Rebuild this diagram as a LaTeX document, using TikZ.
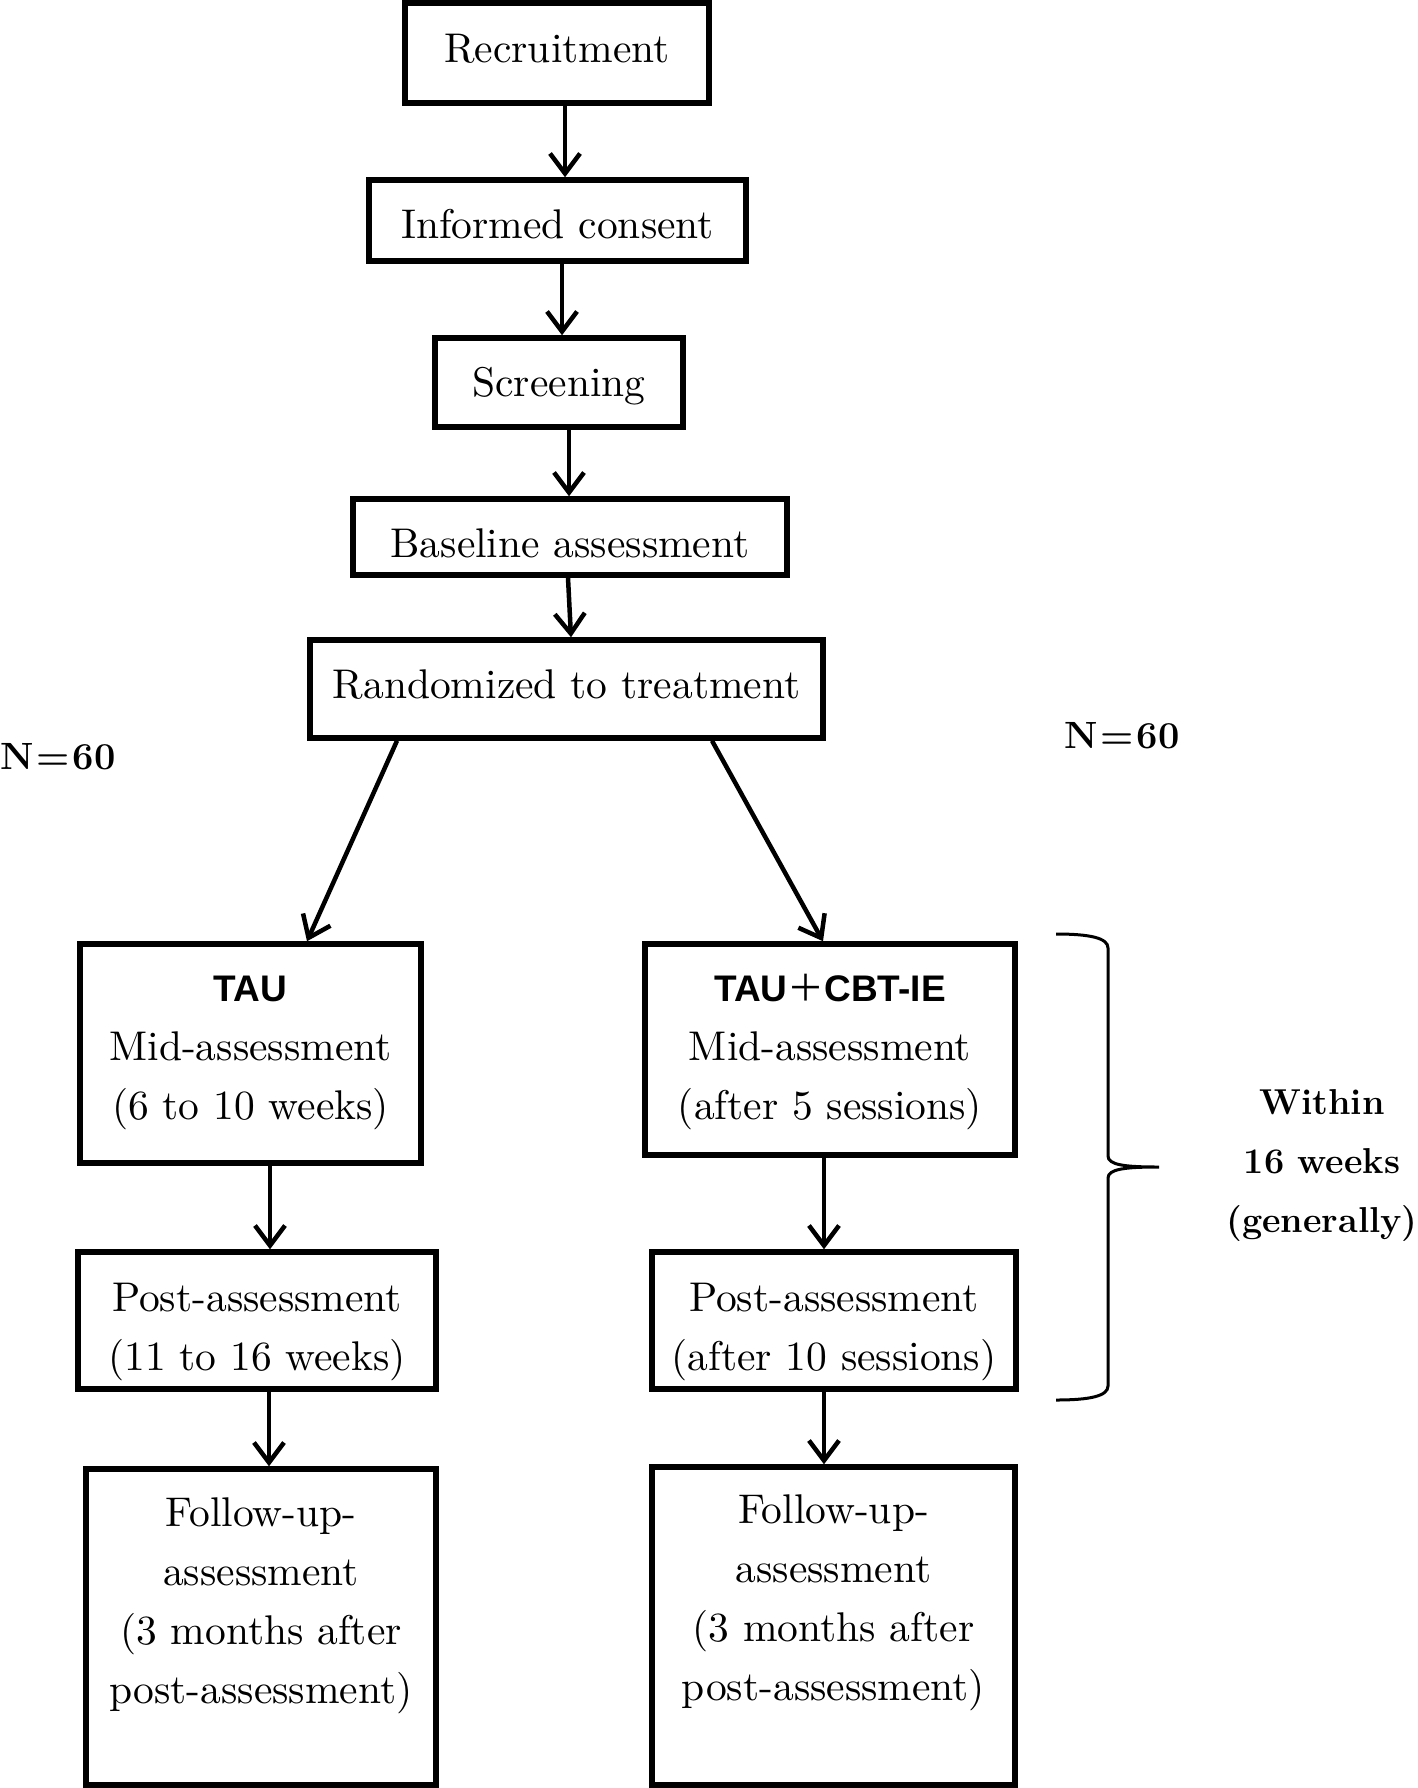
\documentclass[tikz,border=0pt]{standalone}
\usepackage{fontspec}
\setmainfont{lmroman10-regular.otf}[BoldFont=lmroman12-bold.otf, ItalicFont=lmroman10-italic.otf]
\newfontfamily\hdfont{Liberation Sans}
\newfontfamily\cjkfont{Noto Sans CJK JP}
\usetikzlibrary{arrows.meta}
\newcommand\mainsz{\fontsize{41.5}{59}\selectfont}
\newcommand\hdsz{\hdfont\bfseries\fontsize{37}{59}\selectfont}
\newcommand\txtlines[2]{\raisebox{#1}[\height][\depth]{\begin{tabular}{@{}c@{}}#2\end{tabular}}}
\begin{document}
\begin{tikzpicture}[x=1pt,y=-1pt,
  box/.style={draw, line width=5.5pt, inner sep=0pt, font=\mainsz},
  arr/.style={line width=4.5pt, -{Straight Barb[length=20pt,width=30pt]}},
  bracepath/.style={line width=3pt},
  note/.style={inner sep=0pt, align=center, font=\bfseries\fontsize{36}{59}\selectfont}]
\useasboundingbox (0,0) rectangle (1418,1788);

\node[box, minimum width=304pt, minimum height=100pt] (rec) at (557,53) {\txtlines{2.3pt}{Recruitment}};
\node[box, minimum width=377pt, minimum height=81pt] (inf) at (557.5,220.5) {\txtlines{-5.8pt}{Informed consent}};
\node[box, minimum width=248pt, minimum height=89pt] (scr) at (559,382.5) {\txtlines{-2.2pt}{Screening}};
\node[box, minimum width=434pt, minimum height=76pt] (base) at (570,537) {\txtlines{-8.4pt}{Baseline assessment}};
\node[box, minimum width=513pt, minimum height=98pt] (rand) at (566.5,689) {\txtlines{2.3pt}{Randomized to treatment}};

\node[box, minimum width=341pt, minimum height=219pt] (tau) at (250.5,1053.5)
  {\txtlines{5.3pt}{{\hdsz TAU}\\Mid-assessment\\(6 to 10 weeks)}};
\node[box, minimum width=370pt, minimum height=211pt] (cbt) at (830,1049.5)
  {\txtlines{1.3pt}{{\hdsz TAU{\cjkfont\mdseries ＋}CBT-IE}\\Mid-assessment\\(after 5 sessions)}};
\node[box, minimum width=358pt, minimum height=137pt] (ptau) at (257,1320.5)
  {\txtlines{-9pt}{Post-assessment\\(11 to 16 weeks)}};
\node[box, minimum width=364pt, minimum height=137pt] (pcbt) at (834,1320.5)
  {\txtlines{-9pt}{Post-assessment\\(after 10 sessions)}};
\node[box, minimum width=350pt, minimum height=316pt] (ftau) at (261,1627)
  {\txtlines{24pt}{Follow-up-\\assessment\\(3 months after\\post-assessment)}};
\node[box, minimum width=363pt, minimum height=318pt] (fcbt) at (833.5,1626)
  {\txtlines{25.4pt}{Follow-up-\\assessment\\(3 months after\\post-assessment)}};

\node[note, anchor=west, font=\bfseries\fontsize{38}{59}\selectfont] (nl) at (0,757) {N\kern3pt=\kern3pt60};
\node[note, font=\bfseries\fontsize{38}{59}\selectfont] (nr) at (1122,736) {N\kern3pt=\kern3pt60};
\node[note] (within) at (1322,1166) {Within\\16 weeks\\(generally)};

\draw[arr] ([xshift=8pt]rec.south) -- ([xshift=7.5pt]inf.north);
\draw[arr] ([xshift=4.5pt]inf.south) -- ([xshift=3pt]scr.north);
\draw[arr] ([xshift=10pt]scr.south) -- ([xshift=-1pt]base.north);
\draw[arr] ([xshift=-2pt]base.south) -- ([xshift=4.5pt]rand.north);
\draw[arr] ([xshift=-169.5pt]rand.south) -- ([xshift=56.5pt]tau.north);
\draw[arr] ([xshift=145.5pt]rand.south) -- ([xshift=-7pt]cbt.north);
\draw[arr] ([xshift=19.5pt]tau.south) -- ([xshift=13pt]ptau.north);
\draw[arr] ([xshift=12pt]ptau.south) -- ([xshift=8pt]ftau.north);
\draw[arr] ([xshift=-6pt]cbt.south) -- ([xshift=-10pt]pcbt.north);
\draw[arr] ([xshift=-10pt]pcbt.south) -- ([xshift=-9.5pt]fcbt.north);

\draw[bracepath] (1056,934) .. controls (1090,934) and (1108,938) .. (1108,948)
  -- (1108,1156) .. controls (1108,1165) and (1125,1167) .. (1159,1167)
  .. controls (1125,1167) and (1108,1169) .. (1108,1178)
  -- (1108,1386) .. controls (1108,1396) and (1090,1400) .. (1056,1400);
\end{tikzpicture}
\end{document}
